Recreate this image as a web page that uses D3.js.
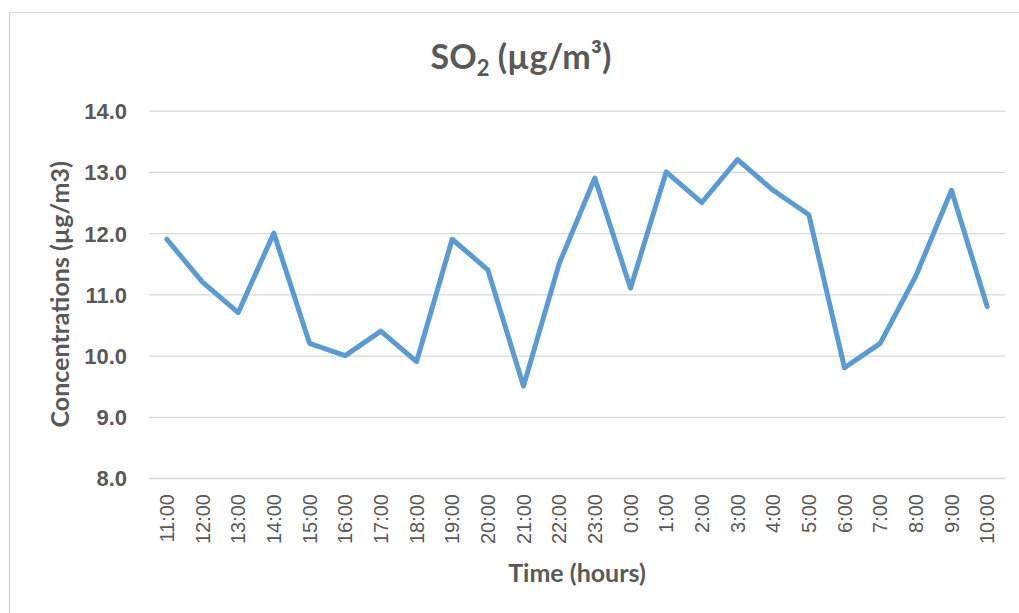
<!DOCTYPE html>
<html>
  <head>
    <meta charset="utf-8">
    <script src="https://cdn.jsdelivr.net/npm/d3@7"></script>
    <title>SO2 concentrations</title>
    <style>
      body { margin: 0px; background: #fff; }
      svg { display: block; font-family: Lato, "Open Sans", sans-serif; }
      .grid line { stroke: #D9D9D9; stroke-width: 1.3; }
      .grid .domain { display: none; }
      .y-ticks text { fill: #595959; font-size: 22px; font-weight: bold; }
      .x-ticks text { fill: #595959; font-size: 20px; }
      .x-ticks .domain, .x-ticks line, .y-ticks .domain, .y-ticks line { display: none; }
      .axis-title { fill: #595959; font-size: 25px; font-weight: bold; }
      .chart-title { fill: #595959; font-size: 34px; font-weight: bold; }
    </style>
  </head>
  <body>
    <svg width="1019" height="613"></svg>
    <script>
      // data
      const hours = ['11:00', '12:00', '13:00', '14:00', '15:00', '16:00', '17:00', '18:00',
        '19:00', '20:00', '21:00', '22:00', '23:00', '0:00', '1:00', '2:00', '3:00', '4:00',
        '5:00', '6:00', '7:00', '8:00', '9:00', '10:00'];
      const so2 = [11.9, 11.2, 10.7, 12.0, 10.2, 10.0, 10.4, 9.9, 11.9, 11.4, 9.5, 11.5,
        12.9, 11.1, 13.0, 12.5, 13.2, 12.7, 12.3, 9.8, 10.2, 11.3, 12.7, 10.8];
      const yTicks = [8, 9, 10, 11, 12, 13, 14];

      const svg = d3.select('svg');

      // chart area border
      svg.append('rect')
        .attr('x', 9.5).attr('y', 12.5)
        .attr('width', 1030).attr('height', 640)
        .attr('fill', '#fff')
        .attr('stroke', '#D9D9D9')
        .attr('stroke-width', 1.3);

      const plot = { left: 149, right: 1005, top: 110.7, bottom: 478 };

      const xScale = d3.scaleBand()
        .domain(hours)
        .range([plot.left, plot.right])
        .padding(0);
      const yScale = d3.scaleLinear()
        .domain([8, 14])
        .range([plot.bottom, plot.top]);

      // horizontal gridlines
      svg.append('g')
        .attr('class', 'grid')
        .attr('transform', `translate(${plot.left}, 0)`)
        .call(d3.axisLeft(yScale).tickValues(yTicks)
          .tickSize(-(plot.right - plot.left)).tickFormat(''));

      // y tick labels
      svg.append('g')
        .attr('class', 'y-ticks')
        .attr('transform', `translate(${plot.left}, 0)`)
        .call(d3.axisLeft(yScale).tickValues(yTicks)
          .tickSize(0).tickPadding(22).tickFormat(d3.format('.1f')))
        .selectAll('text')
          .attr('dy', '0.36em');

      // x tick labels, rotated
      svg.append('g')
        .attr('class', 'x-ticks')
        .attr('transform', `translate(0, ${plot.bottom})`)
        .call(d3.axisBottom(xScale).tickSize(0))
        .selectAll('text')
          .attr('transform', 'rotate(-90)')
          .attr('text-anchor', 'end')
          .attr('x', -16)
          .attr('y', 0)
          .attr('dy', '0.36em');

      // the series
      const line = d3.line()
        .x((d, i) => xScale(hours[i]) + xScale.bandwidth() / 2)
        .y(d => yScale(d));
      svg.append('path')
        .datum(so2)
        .attr('d', line)
        .attr('fill', 'none')
        .attr('stroke', '#5B9BD5')
        .attr('stroke-width', 5)
        .attr('stroke-linejoin', 'round')
        .attr('stroke-linecap', 'round');

      // titles
      const title = svg.append('text')
        .attr('class', 'chart-title')
        .attr('x', 521)
        .attr('y', 69)
        .attr('text-anchor', 'middle');
      title.append('tspan').text('SO');
      title.append('tspan').attr('font-size', '22px').attr('dy', 7).text('2');
      title.append('tspan').attr('dy', -7).text(' (µg/m³)');

      svg.append('text')
        .attr('class', 'axis-title')
        .attr('x', 577)
        .attr('y', 582)
        .attr('text-anchor', 'middle')
        .text('Time (hours)');

      svg.append('text')
        .attr('class', 'axis-title')
        .attr('transform', `translate(69, ${(plot.top + plot.bottom) / 2}) rotate(-90)`)
        .attr('text-anchor', 'middle')
        .text('Concentrations (µg/m3)');
    </script>
  </body>
</html>
